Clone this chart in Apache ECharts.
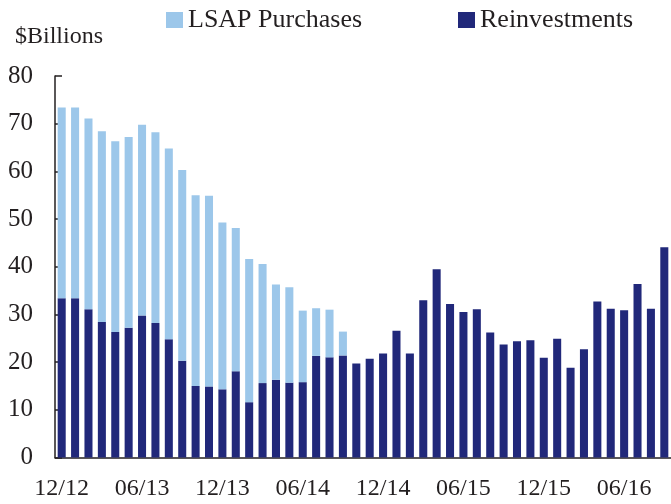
<!DOCTYPE html>
<html>
<head>
<meta charset="utf-8">
<script src="https://cdn.jsdelivr.net/npm/echarts@6/dist/echarts.min.js"></script>
<style>
  html, body { margin: 0; padding: 0; background: #fff; }
  #chart { width: 671px; height: 504px; }
</style>
</head>
<body>
<div id="chart"></div>
<script>
// months, one bar each (Dec 2012 .. Sep 2016)
const months = [
  '12/12', '01/13', '02/13', '03/13', '04/13', '05/13', '06/13', '07/13', '08/13', '09/13', '10/13', '11/13',
  '12/13', '01/14', '02/14', '03/14', '04/14', '05/14', '06/14', '07/14', '08/14', '09/14', '10/14', '11/14',
  '12/14', '01/15', '02/15', '03/15', '04/15', '05/15', '06/15', '07/15', '08/15', '09/15', '10/15', '11/15',
  '12/15', '01/16', '02/16', '03/16', '04/16', '05/16', '06/16', '07/16', '08/16', '09/16'
]

const reinvestments = [
  33.4, 33.4, 31.1, 28.4, 26.3, 27.2, 29.8, 28.2, 24.8, 20.3, 15.0, 14.9,
  14.3, 18.1, 11.6, 15.6, 16.3, 15.7, 15.8, 21.3, 21.0, 21.4, 19.7, 20.7,
  21.8, 26.6, 21.8, 33.0, 39.5, 32.2, 30.5, 31.1, 26.2, 23.7, 24.4, 24.6,
  20.9, 24.9, 18.8, 22.7, 32.7, 31.2, 30.9, 36.4, 31.2, 44.1
]

const lsapPurchases = [
  40, 40, 40, 40, 40, 40, 40, 40, 40, 40, 40, 40,
  35, 30, 30, 25, 20, 20, 15, 10, 10, 5, null, null,
  null, null, null, null, null, null, null, null, null, null, null, null,
  null, null, null, null, null, null, null, null, null, null
]

const yTicks = [0, 80, 10] // min, max, step

const FONT = "'Liberation Serif', 'Times New Roman', serif"
const INK = '#231f20'
const LIGHT = '#9cc7ea'
const DARK = '#21287a'

const chart = echarts.init(document.getElementById('chart'))

chart.setOption({
  animation: false,
  textStyle: { fontFamily: FONT, color: INK },
  graphic: [{
    type: 'text',
    left: 15,
    top: 25,
    style: { text: '$Billions', font: '24px ' + FONT, fill: INK }
  }],
  legend: [
    {
      data: ['LSAP Purchases'], left: 166, top: 7, padding: 0,
      icon: 'rect', itemWidth: 17, itemHeight: 16,
      textStyle: { fontFamily: FONT, fontSize: 26, color: INK }
    },
    {
      data: ['Reinvestments'], left: 458, top: 7, padding: 0,
      icon: 'rect', itemWidth: 17, itemHeight: 16,
      textStyle: { fontFamily: FONT, fontSize: 26, color: INK }
    }
  ],
  grid: { left: 55, right: -2, top: 76, bottom: 46.5 },
  xAxis: {
    type: 'category',
    data: months,
    boundaryGap: true,
    axisLine: { lineStyle: { color: INK, width: 1.5 } },
    axisTick: { interval: 5, length: 7, lineStyle: { color: INK, width: 1.5 } },
    axisLabel: { interval: 5, margin: 19, fontSize: 24, fontFamily: FONT, color: INK },
    splitLine: { show: false }
  },
  yAxis: {
    type: 'value',
    min: yTicks[0],
    max: yTicks[1],
    interval: yTicks[2],
    axisLine: { show: true, lineStyle: { color: INK, width: 1.5 } },
    axisTick: { show: true, inside: true, length: 7, lineStyle: { color: INK, width: 1.5 } },
    axisLabel: { margin: 22, fontSize: 25, fontFamily: FONT, color: INK },
    splitLine: { show: false }
  },
  series: [
    {
      name: 'Reinvestments',
      type: 'bar',
      stack: 'total',
      data: reinvestments,
      barWidth: '60%',
      itemStyle: { color: DARK }
    },
    {
      name: 'LSAP Purchases',
      type: 'bar',
      stack: 'total',
      data: lsapPurchases,
      barWidth: '60%',
      itemStyle: { color: LIGHT }
    }
  ]
})
</script>
</body>
</html>
